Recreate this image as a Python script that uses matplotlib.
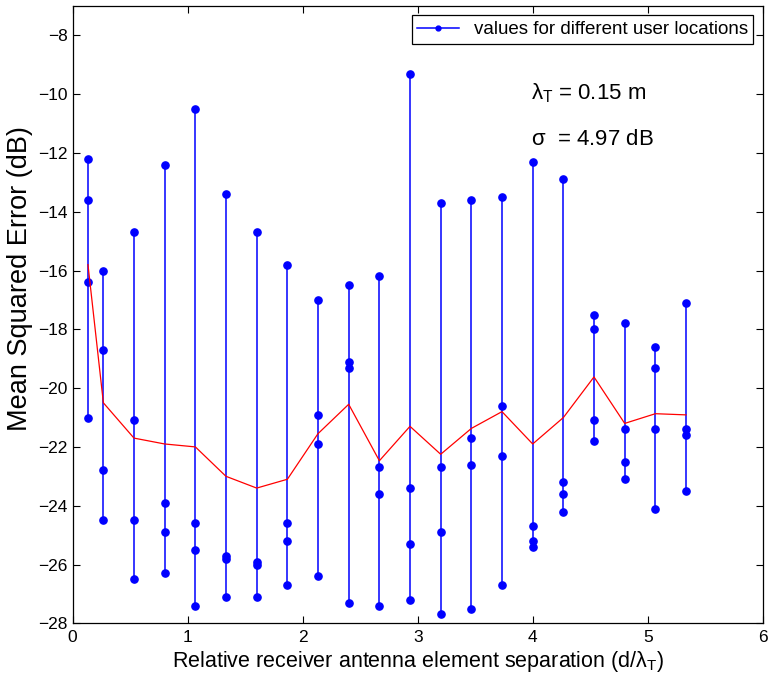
import matplotlib
matplotlib.use('Agg')
import matplotlib.pyplot as plt
from matplotlib.lines import Line2D

plt.rcParams['font.family'] = ['Liberation Sans', 'DejaVu Sans']
plt.rcParams['mathtext.fontset'] = 'custom'
plt.rcParams['mathtext.rm'] = 'Liberation Sans'
plt.rcParams['mathtext.it'] = 'Liberation Sans'

# relative separation d / lambda_T
separation = [0.133, 0.267, 0.533, 0.8, 1.067, 1.333, 1.6, 1.867, 2.133, 2.4, 2.667,
              2.933, 3.2, 3.467, 3.733, 4.0, 4.267, 4.533, 4.8, 5.067, 5.333]

# MSE (dB) for the four user locations at each separation
loc1 = [-12.2, -16.0, -14.7, -12.4, -10.5, -13.4, -14.7, -15.8, -17.0, -16.5, -16.2,
        -9.3, -13.7, -13.6, -13.5, -12.3, -12.9, -17.5, -17.8, -18.6, -17.1]
loc2 = [-13.6, -18.7, -21.1, -23.9, -24.6, -25.7, -25.9, -24.6, -20.9, -19.1, -22.7,
        -23.4, -22.7, -21.7, -20.6, -24.7, -23.2, -18.0, -21.4, -19.3, -21.4]
loc3 = [-16.4, -22.8, -24.5, -24.9, -25.5, -25.8, -26.0, -25.2, -21.9, -19.3, -23.6,
        -25.3, -24.9, -22.6, -22.3, -25.2, -23.6, -21.1, -22.5, -21.4, -21.6]
loc4 = [-21.0, -24.5, -26.5, -26.3, -27.4, -27.1, -27.1, -26.7, -26.4, -27.3, -27.4,
        -27.2, -27.7, -27.5, -26.7, -25.4, -24.2, -21.8, -23.1, -24.1, -23.5]

# mean over locations (red curve)
mean_mse = [-15.8, -20.5, -21.7, -21.9, -22.0, -23.0, -23.4, -23.1, -21.55, -20.55, -22.47,
            -21.3, -22.25, -21.37, -20.8, -21.9, -21.0, -19.62, -21.2, -20.87, -20.91]

fig = plt.figure(figsize=(7.69, 6.86), dpi=100)
ax = fig.add_axes([0.0945, 0.0914, 0.8973, 0.8999])

for i, x in enumerate(separation):
    vals = sorted([loc1[i], loc2[i], loc3[i], loc4[i]])
    ax.plot([x] * 4, vals, '-o', color='blue', lw=1.1, ms=5.2)

ax.plot(separation, mean_mse, color='red', lw=0.9)

ax.set_xlim(0, 6)
ax.set_ylim(-28, -7)
ax.set_xticks(range(0, 7))
ax.set_yticks(range(-28, -7, 2))
ax.tick_params(direction='in', top=True, right=True, length=5, labelsize=12.5, width=0.8)
ax.tick_params(axis='x', pad=5)
for s in ax.spines.values():
    s.set_linewidth(0.9)

ax.set_xlabel(r'Relative receiver antenna element separation (d/$\lambda_\mathrm{T}$)',
              fontsize=15.5, labelpad=3)
ax.set_ylabel('Mean Squared Error (dB)', fontsize=19.5)
ax.yaxis.set_label_coords(-0.0575, 0.558)

ax.text(0.664, 0.859, r'$\lambda_\mathrm{T}$ = 0.15 m', transform=ax.transAxes, fontsize=16,
        va='center', ha='left')
ax.text(0.664, 0.783, r'$\sigma$  = 4.97 dB', transform=ax.transAxes, fontsize=16,
        va='center', ha='left')

handle = Line2D([], [], color='blue', marker='o', ms=3.5, lw=1.1)
leg = ax.legend([handle], ['values for different user locations'], loc='upper right',
                fontsize=13.5, fancybox=False, edgecolor='black', framealpha=1,
                borderaxespad=0.5, handlelength=2.2, borderpad=0.3)
leg.get_frame().set_linewidth(0.9)

fig.savefig('out.png', dpi=100)
